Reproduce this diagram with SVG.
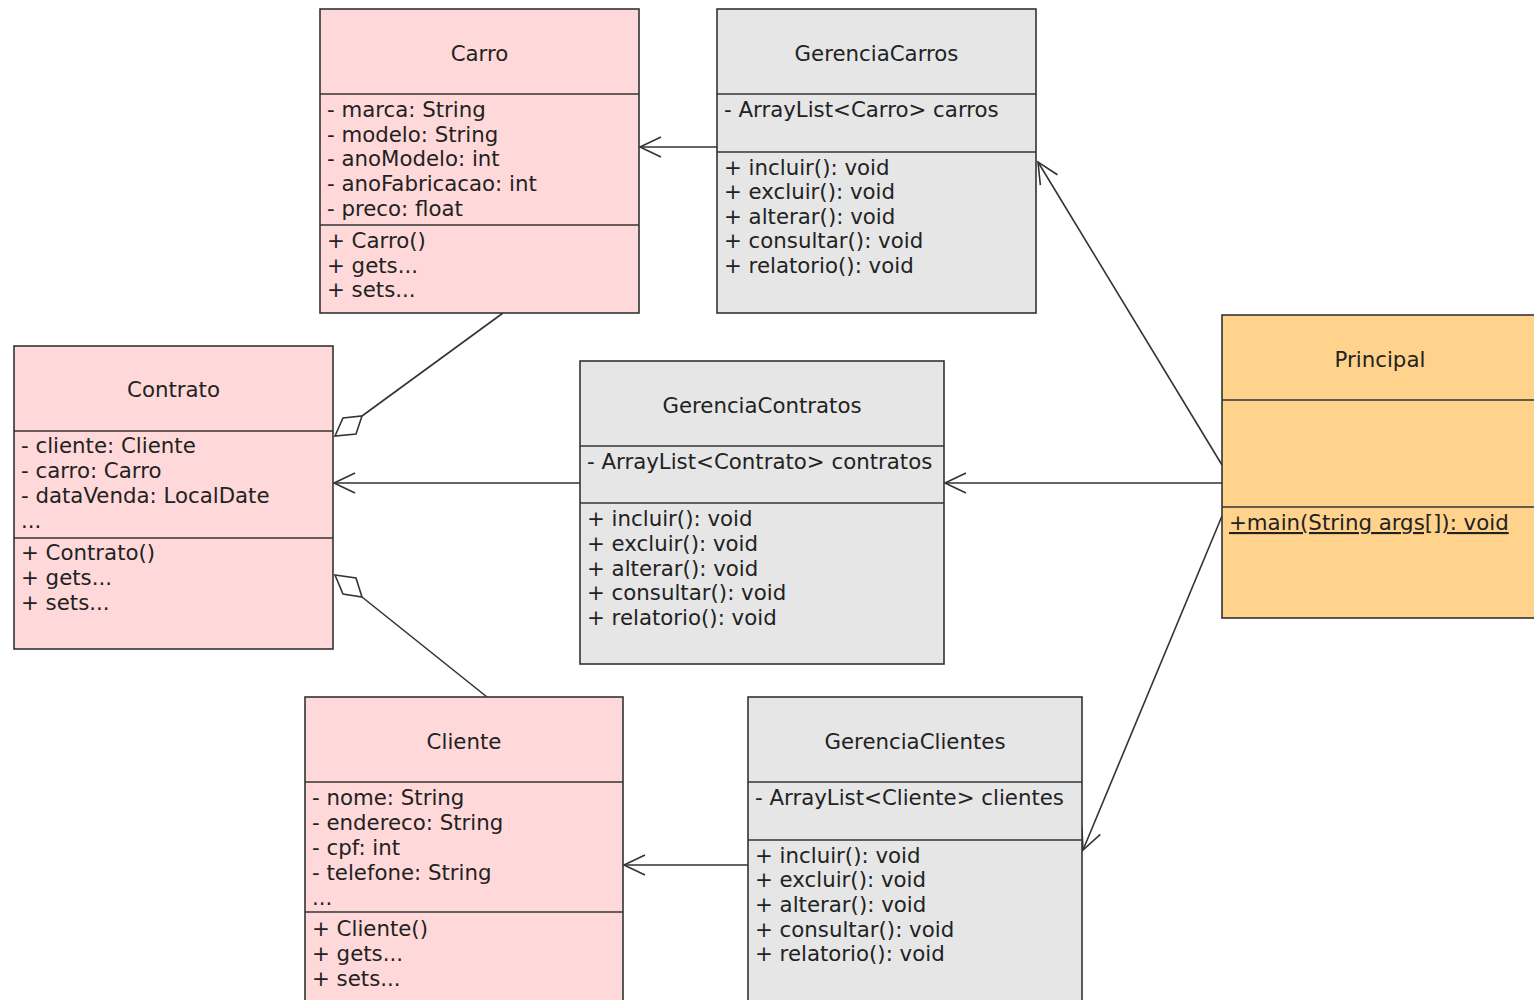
<svg xmlns="http://www.w3.org/2000/svg" width="1534" height="1000" viewBox="0 0 1534 1000">
<defs>
<style>
.box{stroke:#333;stroke-width:1.6}
.pink{fill:#ffd9d9}
.gray{fill:#e6e6e6}
.orange{fill:#ffd38b}
.sep{stroke:#333;stroke-width:1.6}
text{font-family:"DejaVu Sans","Liberation Sans",sans-serif;font-size:21.3px;fill:#222}
.t{text-anchor:middle}
.c{fill:none;stroke:#333;stroke-width:1.6}
.dia{fill:#fff;stroke:#333;stroke-width:1.6}
</style>
<marker id="open" markerUnits="userSpaceOnUse" markerWidth="30" markerHeight="30" viewBox="-25 -15 30 30" refX="0" refY="0" orient="auto">
<path d="M-21,-10 L0,0 L-21,10" fill="none" stroke="#333" stroke-width="1.6"/>
</marker>
</defs>
<rect width="1534" height="1000" fill="#fff"/>

<g id="connectors">
<line class="c" x1="717" y1="147" x2="640" y2="147" marker-end="url(#open)"/>
<line class="c" x1="580" y1="483" x2="334" y2="483" marker-end="url(#open)"/>
<line class="c" x1="748" y1="865" x2="624" y2="865" marker-end="url(#open)"/>
<line class="c" x1="1222" y1="483" x2="945" y2="483" marker-end="url(#open)"/>
<line class="c" x1="1222" y1="465" x2="1038" y2="162" marker-end="url(#open)"/>
<line class="c" x1="1222" y1="516" x2="1083" y2="850" marker-end="url(#open)"/>
<line class="c" x1="503" y1="313" x2="362" y2="416"/>
<polygon class="dia" points="335,436 343,418 362,416 356,434"/>
<line class="c" x1="487" y1="697" x2="362" y2="597"/>
<polygon class="dia" points="335,575 356,578 362,597 343,594"/>
</g>

<g id="Carro">
<rect class="box pink" x="320" y="9" width="319" height="304"/>
<line class="sep" x1="320" y1="94" x2="639" y2="94"/>
<line class="sep" x1="320" y1="225" x2="639" y2="225"/>
<text class="t" x="479.5" y="61">Carro</text>
<text x="327" y="117">- marca: String</text>
<text x="327" y="142">- modelo: String</text>
<text x="327" y="166">- anoModelo: int</text>
<text x="327" y="191">- anoFabricacao: int</text>
<text x="327" y="216">- preco: float</text>
<text x="327" y="248">+ Carro()</text>
<text x="327" y="273">+ gets...</text>
<text x="327" y="297">+ sets...</text>
</g>

<g id="GerenciaCarros">
<rect class="box gray" x="717" y="9" width="319" height="304"/>
<line class="sep" x1="717" y1="94" x2="1036" y2="94"/>
<line class="sep" x1="717" y1="152" x2="1036" y2="152"/>
<text class="t" x="876.5" y="61">GerenciaCarros</text>
<text x="724" y="117">- ArrayList&lt;Carro&gt; carros</text>
<text x="724" y="175">+ incluir(): void</text>
<text x="724" y="199">+ excluir(): void</text>
<text x="724" y="224">+ alterar(): void</text>
<text x="724" y="248">+ consultar(): void</text>
<text x="724" y="273">+ relatorio(): void</text>
</g>

<g id="Contrato">
<rect class="box pink" x="14" y="346" width="319" height="303"/>
<line class="sep" x1="14" y1="431" x2="333" y2="431"/>
<line class="sep" x1="14" y1="538" x2="333" y2="538"/>
<text class="t" x="173.5" y="397">Contrato</text>
<text x="21" y="453">- cliente: Cliente</text>
<text x="21" y="478">- carro: Carro</text>
<text x="21" y="503">- dataVenda: LocalDate</text>
<text x="21" y="528">...</text>
<text x="21" y="560">+ Contrato()</text>
<text x="21" y="585">+ gets...</text>
<text x="21" y="610">+ sets...</text>
</g>

<g id="GerenciaContratos">
<rect class="box gray" x="580" y="361" width="364" height="303"/>
<line class="sep" x1="580" y1="446" x2="944" y2="446"/>
<line class="sep" x1="580" y1="503" x2="944" y2="503"/>
<text class="t" x="762" y="413">GerenciaContratos</text>
<text x="587" y="469">- ArrayList&lt;Contrato&gt; contratos</text>
<text x="587" y="526">+ incluir(): void</text>
<text x="587" y="551">+ excluir(): void</text>
<text x="587" y="576">+ alterar(): void</text>
<text x="587" y="600">+ consultar(): void</text>
<text x="587" y="625">+ relatorio(): void</text>
</g>

<g id="Principal">
<rect class="box orange" x="1222" y="315" width="330" height="303"/>
<line class="sep" x1="1222" y1="400" x2="1552" y2="400"/>
<line class="sep" x1="1222" y1="507" x2="1552" y2="507"/>
<text class="t" x="1380" y="367">Principal</text>
<text x="1229" y="530" text-decoration="underline">+main(String args[]): void</text>
</g>

<g id="Cliente">
<rect class="box pink" x="305" y="697" width="318" height="320"/>
<line class="sep" x1="305" y1="782" x2="623" y2="782"/>
<line class="sep" x1="305" y1="912" x2="623" y2="912"/>
<text class="t" x="464" y="749">Cliente</text>
<text x="312" y="805">- nome: String</text>
<text x="312" y="830">- endereco: String</text>
<text x="312" y="855">- cpf: int</text>
<text x="312" y="880">- telefone: String</text>
<text x="312" y="905">...</text>
<text x="312" y="936">+ Cliente()</text>
<text x="312" y="961">+ gets...</text>
<text x="312" y="986">+ sets...</text>
</g>

<g id="GerenciaClientes">
<rect class="box gray" x="748" y="697" width="334" height="320"/>
<line class="sep" x1="748" y1="782" x2="1082" y2="782"/>
<line class="sep" x1="748" y1="840" x2="1082" y2="840"/>
<text class="t" x="915" y="749">GerenciaClientes</text>
<text x="755" y="805">- ArrayList&lt;Cliente&gt; clientes</text>
<text x="755" y="863">+ incluir(): void</text>
<text x="755" y="887">+ excluir(): void</text>
<text x="755" y="912">+ alterar(): void</text>
<text x="755" y="937">+ consultar(): void</text>
<text x="755" y="961">+ relatorio(): void</text>
</g>
</svg>
